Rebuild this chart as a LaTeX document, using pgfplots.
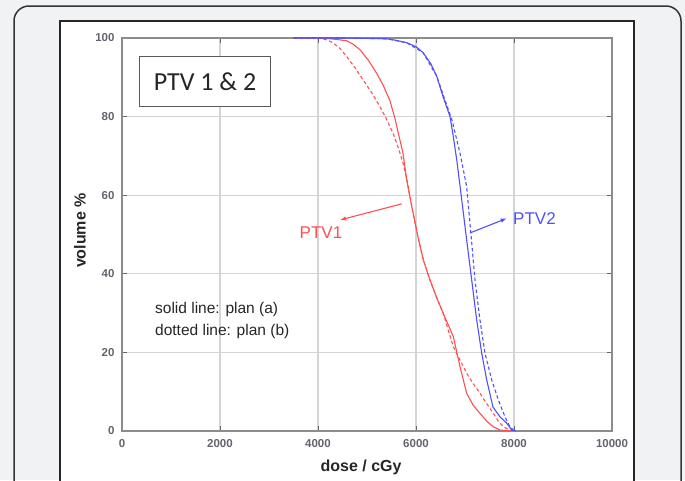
\documentclass[border=0pt]{standalone}
\usepackage{fontspec}
\setmainfont{Liberation Sans}
\newfontfamily\carlito{Carlito}
\usepackage{pgfplots}
\pgfplotsset{compat=1.18}
\usetikzlibrary{arrows.meta}

\definecolor{bgpanel}{RGB}{241,242,244}
\definecolor{ptvred}{RGB}{255,80,80}
\definecolor{ptvblue}{RGB}{80,80,255}
\definecolor{ticklab}{RGB}{100,100,110}
\definecolor{framegray}{RGB}{140,140,140}
\definecolor{gridgray}{RGB}{212,212,212}

\begin{document}
\begin{tikzpicture}
\path[use as bounding box] (0,0) rectangle (685pt,-480pt);
\clip (0,0) rectangle (685pt,-480pt);
\fill[bgpanel] (0,0) rectangle (685pt,-480pt);
% panel outline and white figure area
\draw[line width=1.5pt, draw=black!80, rounded corners=15pt] (14pt,-6pt) rectangle (681pt,-530pt);
\draw[line width=1.2pt, draw=black!85, fill=white] (60pt,-21pt) rectangle (634pt,-530pt);

\begin{axis}[
    at={(122pt,-431pt)}, anchor=south west,
    scale only axis,
    width=490pt, height=393pt,
    xmin=0, xmax=10000,
    ymin=0, ymax=100,
    xtick={0,2000,...,10000},
    ytick={0,20,...,100},
    scaled ticks=false,
    grid=major,
    grid style={line width=1.3pt, gridgray},
    axis line style={line width=2pt, framegray},
    tick style={line width=1pt, black!60},
    major tick length=5pt,
    tick align=inside,
    /pgf/number format/assume math mode=true,
    /pgf/number format/1000 sep={},
    ticklabel style={font=\fontsize{11.5}{12}\selectfont\bfseries, text=ticklab},
    xticklabel style={yshift=-5pt},
    yticklabel style={xshift=-4pt},
    xlabel={dose / cGy},
    ylabel={volume \%},
    xlabel style={font=\fontsize{16}{18}\selectfont\bfseries, text=black!85,
        at={(axis description cs:0.488,-0.092)}, anchor=center},
    ylabel style={font=\fontsize{16}{18}\selectfont\bfseries, text=black!85,
        at={(axis description cs:-0.086,0.51)}, anchor=center},
    clip=false,
]
% PTV1, plan (a)
\addplot[ptvred, line width=1.1pt] coordinates {
    (3500,100) (4000,100) (4178,99.9) (4400,99.6) (4586,99.3) (4720,98.4)
    (4857,97.0) (5030,94.3) (5198,91.0) (5330,88.0) (5469,84.0) (5571,79.5)
    (5650,75.2) (5735,70.7) (5810,63.9) (5900,58) (6040,49.4) (6150,43.5)
    (6286,38.4) (6420,34) (6557,29.9) (6762,24.0) (6898,16.4) (7034,9.6)
    (7170,6.5) (7306,4.5) (7450,2.4) (7578,1.1) (7714,0.25) (7900,0)
};
% PTV1, plan (b)
\addplot[ptvred, line width=1.1pt, dash pattern=on 3.5pt off 2.5pt] coordinates {
    (3500,100) (3900,100) (4041,100) (4180,99.5) (4306,98.8) (4450,97.3)
    (4586,95.3) (4750,92.5) (4918,89.4) (5100,86.0) (5265,82.5) (5400,79.3)
    (5531,75.8) (5640,72.0) (5735,68.2) (5810,64.2) (5900,58) (6040,49.4)
    (6150,43.5) (6286,38.4) (6420,34) (6557,29.9) (6650,26) (6762,21.4)
    (6900,18) (7034,14.7) (7170,12) (7306,9.6) (7440,7) (7578,4.5)
    (7680,2.5) (7782,1.1) (7918,0.25) (7970,0)
};
% PTV2, plan (a)
\addplot[ptvblue, line width=1.1pt] coordinates {
    (3500,100) (4500,100) (5000,99.9) (5402,99.8) (5600,99.4) (5810,98.8)
    (6000,97.8) (6143,96.3) (6300,93.5) (6422,90.3) (6551,85.1) (6694,80.0)
    (6762,74.9) (6831,69.0) (6898,62.4) (6965,55.6) (7034,48.6) (7137,38.4)
    (7239,28.2) (7341,19.8) (7443,13.0) (7571,6.1) (7714,3.6) (7851,2.0)
    (7953,0.25) (8041,0)
};
% PTV2, plan (b)
\addplot[ptvblue, line width=1.1pt, dash pattern=on 3.5pt off 2.5pt] coordinates {
    (3500,100) (4500,100) (5000,99.9) (5402,99.8) (5810,98.8) (6143,96.3)
    (6422,90.3) (6592,84.2) (6735,79.1) (6898,70.7) (7034,62.2) (7120,50.3)
    (7204,38.4) (7306,28.2) (7408,19.8) (7545,13.0) (7680,7.9) (7816,3.6)
    (7918,1.1) (7986,0.25) (8030,0)
};

% annotations
\node[draw=black!65, line width=1.5pt, fill=white, minimum width=131pt,
      minimum height=50pt, inner sep=0pt, font=\carlito\fontsize{26}{28}\selectfont,
      text=black!85] at (axis cs:1694,88.9) {PTV 1 \& 2};
\node[anchor=west, align=left, inner sep=0pt, font=\fontsize{15.5}{22}\selectfont,
      text=black!85] at (axis cs:673,28.0) {solid line: plan (a)\\dotted line: plan (b)};
\draw[ptvred, line width=1.1pt, -{Latex[length=6pt,width=4.5pt]}]
    (axis cs:5708,57.8) -- (axis cs:4449,53.7);
\node[text=ptvred, font=\fontsize{17}{18}\selectfont] at (axis cs:4061,50.4) {PTV1};
\draw[ptvblue, line width=1.1pt, -{Latex[length=6pt,width=4.5pt]}]
    (axis cs:7102,50.4) -- (axis cs:7851,54.1);
\node[text=ptvblue, font=\fontsize{17}{18}\selectfont] at (axis cs:8418,54.1) {PTV2};
\end{axis}
\end{tikzpicture}
\end{document}
